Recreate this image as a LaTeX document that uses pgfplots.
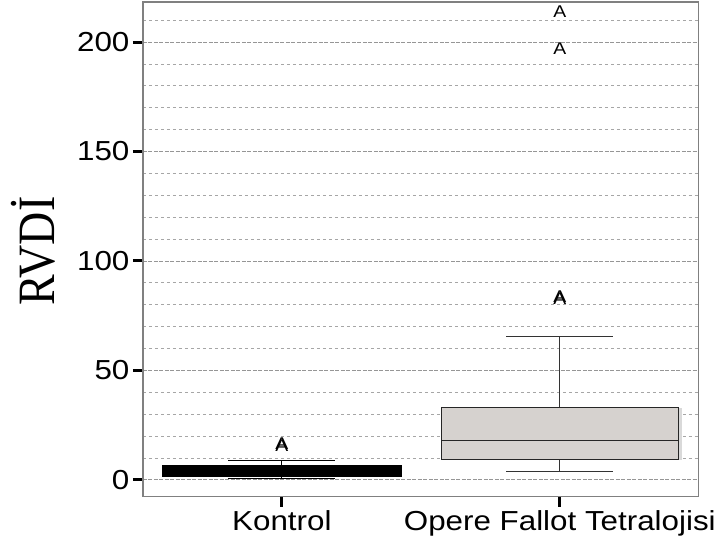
\documentclass[border=0pt]{standalone}
\usepackage{fontspec}
\setmainfont{Liberation Sans}
\newfontfamily\serifrm{Liberation Serif}
\usepackage{graphicx}
\usepackage{pgfplots}
\pgfplotsset{compat=1.18}

\definecolor{boxgray}{RGB}{214,210,207}
\definecolor{framegray}{RGB}{128,128,128}
\definecolor{gridgray}{RGB}{150,150,150}

% the reference text is set a little wide
\newcommand{\wide}[1]{\scalebox{1.14}[1]{#1}}

\begin{document}
\begin{tikzpicture}
\begin{axis}[
  name=ax,
  scale only axis,
  width=556pt, height=495pt,
  xmin=0.5, xmax=2.5,
  ymin=-7.8, ymax=218.3,
  xtick={1,2},
  xticklabels={\wide{Kontrol}, \wide{Opere Fallot Tetralojisi}},
  ytick={0,50,...,200},
  yticklabel={\wide{\pgfmathprintnumber{\tick}}},
  minor ytick={10,20,30,40,60,70,80,90,110,120,130,140,160,170,180,190,210},
  ymajorgrids, yminorgrids,
  major grid style={gridgray, dash pattern=on 4pt off 1.5pt, line width=0.7pt},
  minor grid style={gridgray!85, dash pattern=on 3pt off 3pt, line width=0.7pt},
  axis line style={framegray, line width=1.2pt},
  tick pos=left,
  tick align=outside,
  major tick length=10pt,
  minor tick length=0pt,
  every major tick/.append style={black, line width=3pt},
  ticklabel style={font=\fontsize{27.5}{32}\selectfont},
  /pgf/number format/assume math mode=true,
  ylabel={\scalebox{1}[1.14]{\serifrm RVDİ}},
  ylabel style={font=\fontsize{46}{50}\selectfont, at={(axis description cs:-0.197,0.497)}, anchor=center},
]

% Kontrol: box 1.5-6.4, whiskers 0.8-8.7
\addplot[black, line width=0.8pt] coordinates {(1,0.8) (1,8.7)};
\addplot[black, fill=black, line width=0.8pt]
  coordinates {(0.5685,1.5) (1.4315,1.5) (1.4315,6.4) (0.5685,6.4)} -- cycle;
\addplot[black, line width=0.8pt] coordinates {(0.8075,8.7) (1.1925,8.7)};
\addplot[black, line width=0.8pt] coordinates {(0.8075,0.8) (1.1925,0.8)};

% Opere Fallot Tetralojisi: box 9.5-33.1, median 18, whiskers 3.8-65.3
\addplot[black!80, line width=0.8pt] coordinates {(2,3.8) (2,65.3)};
\addplot[black!80, line width=0.8pt] coordinates {(1.8075,65.3) (2.1925,65.3)};
\addplot[black!80, line width=0.8pt] coordinates {(1.8075,3.8) (2.1925,3.8)};
\addplot[draw=none, fill=gray!30]
  coordinates {(1.5894,9.1) (2.4394,9.1) (2.4394,32.6) (1.5894,32.6)} -- cycle;
\addplot[black!85, fill=boxgray, line width=0.8pt]
  coordinates {(1.575,9.5) (2.425,9.5) (2.425,33.1) (1.575,33.1)} -- cycle;
\addplot[black!85, line width=0.8pt] coordinates {(1.575,18) (2.425,18)};

% outliers
\addplot[only marks, mark=none, black,
  nodes near coords={\wide{A}},
  every node near coord/.append style={anchor=center, inner sep=0pt, font=\fontsize{17}{17}\selectfont}]
  coordinates {(1,16.5) (1,15.8) (2,83.6) (2,82.9) (2,197.2) (2,213.8)};

\end{axis}
\path (ax.south west) ++(-143pt,-53pt);
\path (ax.north east) ++(20pt,2pt);
\end{tikzpicture}
\end{document}
